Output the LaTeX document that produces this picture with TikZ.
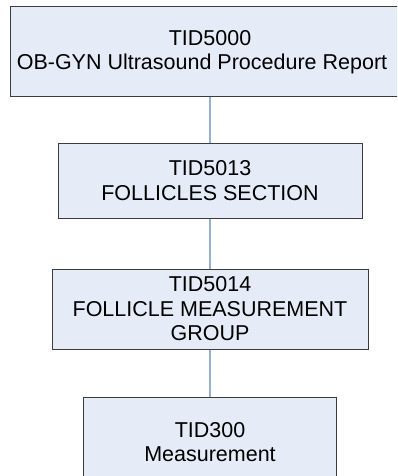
\documentclass[tikz,border=0pt]{standalone}
\usepackage{fontspec}
\setmainfont{Liberation Sans}
\definecolor{boxfill}{RGB}{230,236,247}
\definecolor{boxdraw}{RGB}{60,60,60}
\definecolor{linkcol}{RGB}{148,176,218}
\begin{document}
\begin{tikzpicture}[x=1pt,y=-1pt,
  tidbox/.style={draw=boxdraw,fill=boxfill,line width=1pt,inner sep=0pt,align=center,
    font=\fontsize{21.5}{24.5}\selectfont},
  link/.style={draw=linkcol,line width=1.5pt}]
\useasboundingbox (0,0) rectangle (397,476);
\clip (0,0) rectangle (397,476);
\node[tidbox,minimum width=400pt,minimum height=90pt] (a) at (210,52) {TID5000\\OB-GYN Ultrasound Procedure Report\hspace*{16pt}};
\node[tidbox,minimum width=304pt,minimum height=75pt] (b) at (210,180.5) {TID5013\\FOLLICLES SECTION};
\node[tidbox,minimum width=316pt,minimum height=80pt] (c) at (210,309) {TID5014\\FOLLICLE MEASUREMENT\\GROUP};
\node[tidbox,minimum width=253pt,minimum height=90pt] (d) at (210,442) {TID300\\Measurement};
\draw[link] (a.south) -- (b.north);
\draw[link] (b.south) -- (c.north);
\draw[link] (c.south) -- (d.north);
\end{tikzpicture}
\end{document}
